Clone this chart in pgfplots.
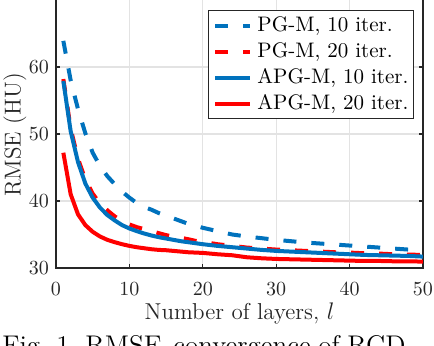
\documentclass[border=0pt]{standalone}
\usepackage{pgfplots}
\pgfplotsset{compat=1.18}
\definecolor{mblue}{HTML}{0072BD}
\definecolor{mred}{HTML}{FF0000}
\definecolor{axgray}{HTML}{262626}
\definecolor{gridgray}{HTML}{E3E3E3}

\begin{document}
\begin{tikzpicture}[x=1pt,y=1pt]
\useasboundingbox (0,0) rectangle (217,173);
\clip (0,0) rectangle (217,173);
\begin{axis}[at={(28pt,39pt)},anchor=south west,scale only axis,
  width=183.5pt,height=135.675pt,
  xmin=0,xmax=50,ymin=30,ymax=70.5,
  xtick={0,10,...,50},ytick={30,40,50,60},
  grid=major,major grid style={gridgray,line width=0.6pt},
  axis line style={axgray,line width=0.7pt},
  tick style={axgray,line width=0.6pt},
  tick align=inside,major tick length=1.8pt,
  ticklabel style={font=\fontsize{10}{12}\selectfont,text=axgray},
  xticklabel style={yshift=-3.6pt},
  xlabel={Number of layers, $l$},ylabel={RMSE (HU)},
  label style={font=\fontsize{11.5}{13}\selectfont,text=axgray},
  xlabel style={at={(axis description cs:0.5,-0.1916)},anchor=base},
  ylabel style={at={(axis description cs:-0.1444,0.49)},anchor=north,inner sep=0pt},
  legend image code/.code={\draw[#1] (0pt,0pt) -- (17.5pt,0pt);},
  legend cell align=left,
  legend style={at={(rel axis cs:0.9755,0.9506)},anchor=north east,
    draw=axgray,line width=0.5pt,fill=white,
    font=\fontsize{10.5}{12}\selectfont,
    inner xsep=2.5pt,inner ysep=1pt,row sep=0pt,column sep=2.5pt,
    nodes={inner sep=0pt,text height=9.7pt,text depth=3.3pt}},
]
% PG-M, 10 iter.
\addplot[mblue,line width=2pt,line join=round,dash pattern=on 6.5pt off 7.5pt] coordinates {
(1,63.9)(2,58.0)(3,53.7)(4,50.1)(5,47.2)(6,45.2)(7,43.7)(8,42.5)(9,41.4)(10,40.5)
(11,39.7)(12,39.1)(13,38.7)(14,38.2)(15,37.8)(16,37.4)(17,37.0)(18,36.6)(19,36.3)(20,36.0)
(22,35.5)(24,35.0)(26,34.7)(28,34.45)(30,34.2)(32,34.0)(34,33.8)(36,33.65)(38,33.5)(40,33.35)
(42,33.2)(44,33.05)(46,32.9)(48,32.75)(50,32.6)};
\addlegendentry{PG-M, 10 iter.}
% PG-M, 20 iter.
\addplot[mred,line width=2pt,line join=round,dash pattern=on 6.5pt off 7.5pt] coordinates {
(1,58.2)(2,50.8)(3,46.3)(4,43.2)(5,41.1)(6,39.6)(7,38.6)(8,37.7)(9,37.0)(10,36.5)
(11,36.1)(12,35.8)(13,35.5)(14,35.2)(15,34.9)(16,34.7)(17,34.5)(18,34.3)(19,34.05)(20,33.9)
(22,33.55)(24,33.3)(26,33.05)(28,32.9)(30,32.75)(32,32.65)(34,32.55)(36,32.45)(38,32.35)(40,32.3)
(42,32.2)(44,32.15)(46,32.05)(48,32.0)(50,31.95)};
\addlegendentry{PG-M, 20 iter.}
% APG-M, 10 iter.
\addplot[mblue,line width=2pt,line join=round] coordinates {
(1,57.9)(2,50.4)(3,45.8)(4,42.6)(5,40.5)(6,39.0)(7,37.9)(8,37.1)(9,36.4)(10,35.9)
(11,35.5)(12,35.15)(13,34.85)(14,34.6)(15,34.4)(16,34.2)(17,34.0)(18,33.85)(19,33.7)(20,33.55)
(22,33.3)(24,33.1)(26,32.9)(28,32.7)(30,32.55)(32,32.45)(34,32.35)(36,32.25)(38,32.15)(40,32.05)
(42,31.95)(44,31.9)(46,31.85)(48,31.8)(50,31.7)};
\addlegendentry{APG-M, 10 iter.}
% APG-M, 20 iter.
\addplot[mred,line width=2pt,line join=round] coordinates {
(1,47.2)(2,41.0)(3,38.0)(4,36.4)(5,35.4)(6,34.7)(7,34.2)(8,33.85)(9,33.55)(10,33.3)
(11,33.1)(12,32.95)(13,32.8)(14,32.7)(15,32.65)(16,32.55)(17,32.45)(18,32.35)(19,32.3)(20,32.25)
(22,32.05)(24,31.9)(26,31.6)(28,31.45)(30,31.35)(32,31.3)(34,31.25)(36,31.2)(38,31.15)(40,31.1)
(42,31.05)(44,31.05)(46,31.0)(48,31.0)(50,30.95)};
\addlegendentry{APG-M, 20 iter.}
\end{axis}
% caption of the page, cut by the edge
\begin{scope}[font=\fontsize{13.5}{16}\selectfont]
\node[anchor=base west,inner sep=0pt] at (1,-4.2) {Fig.~1.};
\node[anchor=base west,inner sep=0pt] at (42.5,-4.2) {RMSE};
\node[anchor=base west,inner sep=0pt] at (86.5,-4.2) {convergence};
\node[anchor=base west,inner sep=0pt] at (159,-4.2) {of};
\node[anchor=base west,inner sep=0pt] at (173.5,-4.2) {RCD};
\end{scope}
\end{tikzpicture}
\end{document}
